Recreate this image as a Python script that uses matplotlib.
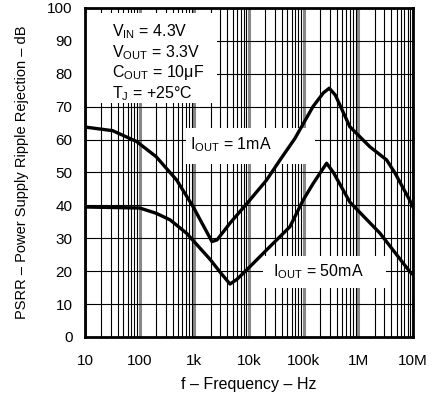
import matplotlib.pyplot as plt
from matplotlib.patches import Rectangle
from matplotlib.ticker import LogLocator, NullFormatter

plt.rcParams['font.family'] = ['Liberation Sans', 'DejaVu Sans']
plt.rcParams['mathtext.fontset'] = 'custom'
plt.rcParams['mathtext.rm'] = 'Liberation Sans'
plt.rcParams['mathtext.it'] = 'Liberation Sans'

# PSRR vs frequency
freq_1ma = [10, 32, 88, 200, 475, 950, 1500, 2100, 2600, 4500, 10000, 21000,
            37000, 69000, 148000, 230000, 294000, 380000, 700000, 1630000,
            3300000, 4700000, 8700000, 10000000]
psrr_1ma = [63.8, 62.7, 59.4, 54.8, 47.7, 39.6, 33.5, 29.0, 29.5, 34.6, 41.3, 47.7,
            53.8, 60.3, 70.0, 74.2, 75.6, 73.5, 63.9, 57.8,
            53.8, 49.8, 41.6, 39.5]

freq_50ma = [10, 100, 200, 360, 725, 1940, 3000, 4500, 6000, 9100, 20000, 56000,
             98000, 150000, 263000, 350000, 700000, 2500000, 8800000, 10000000]
psrr_50ma = [39.5, 39.2, 37.6, 35.6, 31.5, 23.6, 19.6, 16.1, 17.5, 20.4, 26.1, 33.5,
             41.6, 46.7, 52.8, 50.0, 41.0, 31.5, 19.8, 19.0]

xticks = [10, 100, 1e3, 1e4, 1e5, 1e6, 1e7]
xticklabels = ["10", "100", "1k", "10k", "100k", "1M", "10M"]
yticks = list(range(0, 101, 10))

fig = plt.figure(figsize=(4.37, 3.96), dpi=100)
ax = fig.add_axes([0.1945, 0.149, 0.7505, 0.831])

ax.set_xscale('log')
ax.set_xlim(10, 1e7)
ax.set_ylim(0, 100)
ax.set_xticks(xticks)
ax.set_xticklabels(xticklabels)
ax.set_yticks(yticks)
ax.xaxis.set_minor_locator(LogLocator(base=10, subs=range(2, 10), numticks=20))
ax.xaxis.set_minor_formatter(NullFormatter())
ax.tick_params(which='both', length=0, labelsize=11)
ax.tick_params(axis='x', pad=12)
ax.tick_params(axis='y', pad=9)

ax.grid(True, axis='x', which='major', color='#888888', linewidth=2.2, zorder=1)
ax.grid(True, axis='x', which='minor', color='black', linewidth=0.8, zorder=1)
ax.grid(True, axis='y', which='major', color='black', linewidth=0.8, zorder=1)
ax.set_axisbelow(True)

for s in ax.spines.values():
    s.set_linewidth(2)

# white label backgrounds (blank out the grid)
for x0, x1, y0, y1 in [(10, 2600, 71, 98.5), (700, 1.6e5, 52.5, 63.5), (1.8e4, 3.2e6, 15, 24.5)]:
    ax.add_patch(Rectangle((x0, y0), x1 - x0, y1 - y0, facecolor='white',
                           edgecolor='none', zorder=2))

ax.plot(freq_1ma, psrr_1ma, color='black', linewidth=2.4, solid_joinstyle='round', zorder=4)
ax.plot(freq_50ma, psrr_50ma, color='black', linewidth=2.4, solid_joinstyle='round', zorder=4)

cond = ("V$_{\\mathrm{IN}}$ = 4.3V\nV$_{\\mathrm{OUT}}$ = 3.3V\n"
        "C$_{\\mathrm{OUT}}$ = 10\u03bcF\nT$_{\\mathrm{J}}$ = +25\u00b0C")
ax.text(31, 95.5, cond, fontsize=11.5, va='top', ha='left', linespacing=1.12, zorder=5)
ax.text(830, 58.4, "I$_{\\mathrm{OUT}}$ = 1mA", fontsize=11.5, ha='left', va='center', zorder=5)
ax.text(2.77e4, 19.8, "I$_{\\mathrm{OUT}}$ = 50mA", fontsize=11.5, ha='left', va='center', zorder=5)

ax.set_xlabel("f \u2013 Frequency \u2013 Hz", fontsize=11.5, labelpad=7)
ax.set_ylabel("PSRR \u2013 Power Supply Ripple Rejection \u2013 dB", fontsize=10.5, labelpad=13)

fig.savefig("out.png", dpi=100)
